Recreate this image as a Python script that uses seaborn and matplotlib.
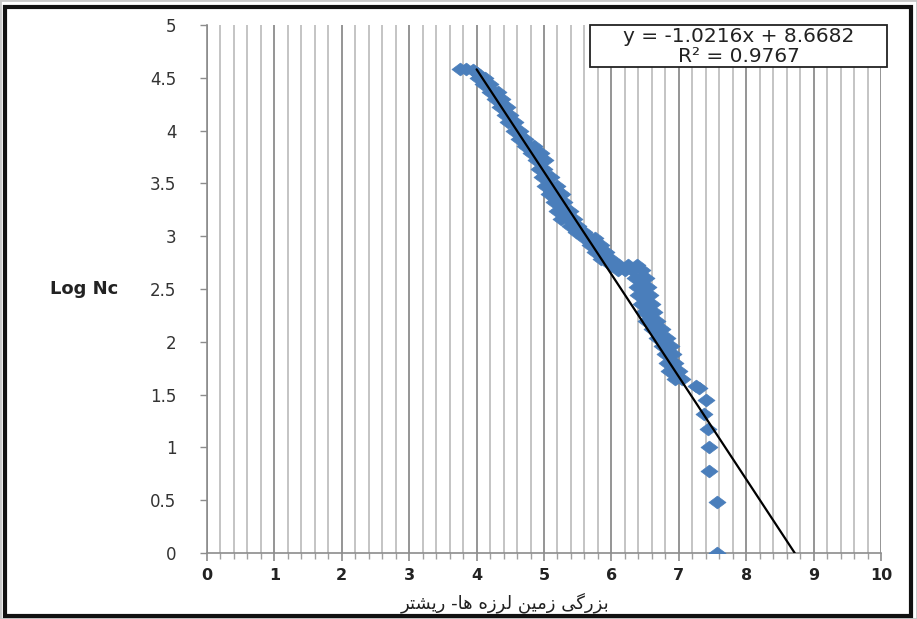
import matplotlib
matplotlib.use("Agg")
import matplotlib.pyplot as plt
import seaborn as sns
from matplotlib.markers import MarkerStyle
from matplotlib.path import Path
from matplotlib.patches import Rectangle
from matplotlib.ticker import MultipleLocator

# ---- data ----
magnitude = [3.75, 3.85, 3.95, 4.00,
             4.02, 4.07, 4.12, 4.10, 4.15, 4.20, 4.20, 4.26, 4.32,
             4.27, 4.33, 4.38, 4.35, 4.40, 4.45, 4.42, 4.46, 4.50,
             4.47, 4.52, 4.57, 4.55, 4.60, 4.65, 4.63, 4.68, 4.72,
             4.72, 4.78, 4.85, 4.80, 4.88, 4.95, 4.88, 4.95, 5.02,
             4.93, 5.00, 4.97, 5.04, 5.10, 5.02, 5.11, 5.20,
             5.08, 5.18, 5.27, 5.15, 5.22, 5.30, 5.20, 5.29, 5.38,
             5.25, 5.35, 5.45, 5.38, 5.44, 5.50, 5.47, 5.54, 5.60,
             5.60, 5.68, 5.75, 5.68, 5.77, 5.85, 5.75, 5.84, 5.92,
             5.85, 5.93, 6.00,
             6.00, 6.12, 6.25, 6.38, 6.10, 6.20, 6.30, 6.45, 6.35, 6.44, 6.52,
             6.38, 6.47, 6.55, 6.40, 6.49, 6.57, 6.44, 6.52, 6.60,
             6.48, 6.56, 6.63, 6.52, 6.60, 6.68, 6.60, 6.68, 6.75,
             6.68, 6.76, 6.83, 6.75, 6.82, 6.88, 6.80, 6.86, 6.92,
             6.82, 6.89, 6.95, 6.86, 6.93, 7.00, 6.95, 7.05,
             7.25, 7.30, 7.40, 7.38, 7.43, 7.45, 7.45, 7.56, 7.56]
log_nc = [4.58, 4.58, 4.57, 4.55,
          4.50, 4.50, 4.50, 4.44, 4.44, 4.44, 4.37, 4.37, 4.37,
          4.30, 4.30, 4.30, 4.22, 4.22, 4.22, 4.15, 4.15, 4.15,
          4.08, 4.08, 4.08, 4.00, 4.00, 4.00, 3.92, 3.92, 3.92,
          3.85, 3.85, 3.85, 3.79, 3.79, 3.79, 3.72, 3.72, 3.72,
          3.64, 3.64, 3.56, 3.56, 3.56, 3.48, 3.48, 3.48,
          3.40, 3.40, 3.40, 3.32, 3.32, 3.32, 3.24, 3.24, 3.24,
          3.16, 3.16, 3.16, 3.10, 3.10, 3.10, 3.04, 3.04, 3.04,
          2.98, 2.98, 2.98, 2.92, 2.92, 2.92, 2.85, 2.85, 2.85,
          2.78, 2.78, 2.78,
          2.73, 2.73, 2.73, 2.73, 2.68, 2.68, 2.68, 2.68, 2.60, 2.60, 2.60,
          2.52, 2.52, 2.52, 2.44, 2.44, 2.44, 2.36, 2.36, 2.36,
          2.28, 2.28, 2.28, 2.20, 2.20, 2.20, 2.12, 2.12, 2.12,
          2.04, 2.04, 2.04, 1.96, 1.96, 1.96, 1.88, 1.88, 1.88,
          1.80, 1.80, 1.80, 1.72, 1.72, 1.72, 1.65, 1.65,
          1.58, 1.56, 1.45, 1.32, 1.17, 1.00, 0.78, 0.48, 0.00]

trend_mag = [4.0, 8.72]
trend_log = [4.58, 0.0]

x_ticks = [0, 1, 2, 3, 4, 5, 6, 7, 8, 9, 10]
y_ticks = [0, 0.5, 1, 1.5, 2, 2.5, 3, 3.5, 4, 4.5, 5]
y_tick_labels = ["0", "0.5", "1", "1.5", "2", "2.5", "3", "3.5", "4", "4.5", "5"]

eq_line1 = "y = -1.0216x + 8.6682"
eq_line2 = "R\u00b2 = 0.9767"
y_label = "Log Nc"
# "بزرگی زمین لرزه ها- ریشتر" in shaped, visual (left-to-right) order
x_label = ("\uFEAE\uFE98\uFEB8\uFBFE\uFEAD -\uFE8E\uFEEB "
           "\uFEE9\uFEAF\uFEAE\uFEDF \uFEE6\uFBFF\uFEE3\uFEAF "
           "\uFBFD\uFB94\uFEAD\uFEB0\uFE91")

# ---- styling ----
sns.set_style("white")
plt.rcParams["font.family"] = ["DejaVu Sans"]

W, H = 917, 619
fig = plt.figure(figsize=(W / 100, H / 100), dpi=100)
fig.patch.set_facecolor("white")

left_px, right_px, top_px, bot_px = 207, 881, 25, 553
ax = fig.add_axes([left_px / W, 1 - bot_px / H,
                   (right_px - left_px) / W, (bot_px - top_px) / H])

ax.set_xlim(0, 10)
ax.set_ylim(0, 5)

# vertical grid lines
ax.xaxis.set_major_locator(MultipleLocator(1))
ax.xaxis.set_minor_locator(MultipleLocator(0.2))
ax.grid(False)
ax.grid(True, axis="x", which="minor", color="#b4b4b4", linewidth=1.1)
ax.grid(True, axis="x", which="major", color="#8c8c8c", linewidth=1.3)
ax.set_axisbelow(True)

diamond = MarkerStyle(Path([(-1, 0), (0, 0.75), (1, 0), (0, -0.75), (-1, 0)],
                           [Path.MOVETO, Path.LINETO, Path.LINETO,
                            Path.LINETO, Path.CLOSEPOLY]))
sns.scatterplot(x=magnitude, y=log_nc, marker=diamond, s=150,
                color="#4a7ebb", edgecolor="#4a7ebb", linewidth=0.5,
                ax=ax, zorder=3, legend=False)
sns.lineplot(x=trend_mag, y=trend_log, color="black", linewidth=1.6,
             ax=ax, zorder=4, legend=False)

ax.set_xticks(x_ticks)
ax.set_xticklabels([str(v) for v in x_ticks], fontsize=11.5,
                   fontweight="bold", color="#222222")
ax.set_yticks(y_ticks)
ax.set_yticklabels(y_tick_labels, fontsize=12, color="#333333")

for s in ["top", "right"]:
    ax.spines[s].set_visible(False)
for s in ["left", "bottom"]:
    ax.spines[s].set_color("#8c8c8c")
    ax.spines[s].set_linewidth(1.2)

ax.tick_params(axis="y", which="major", direction="out", length=5,
               color="#8c8c8c", width=1, pad=17, left=True)
ax.tick_params(axis="x", which="major", direction="out", length=6,
               color="#8c8c8c", width=1.2, pad=5, bottom=True)
ax.tick_params(axis="x", which="minor", direction="out", length=4,
               color="#a0a0a0", width=1, bottom=True)

ax.set_xlabel("")
ax.set_ylabel(y_label, rotation=0, fontsize=13, fontweight="bold",
              color="#222222", va="center", ha="center")
ax.yaxis.set_label_coords(-0.183, 0.5)

fig.text(505 / W, 1 - 603 / H, x_label, ha="center", va="center",
         fontsize=13, color="#222222", family=["DejaVu Sans"])

# equation box
bx0, bx1, by0, by1 = 590, 887, 25, 67
fig.add_artist(Rectangle((bx0 / W, 1 - by1 / H), (bx1 - bx0) / W,
                         (by1 - by0) / H, transform=fig.transFigure,
                         facecolor="white", edgecolor="#222222",
                         linewidth=1.3, zorder=10))
cx = (bx0 + bx1) / 2 / W
fig.text(cx, 1 - 36 / H, eq_line1, ha="center", va="center",
         fontsize=14.5, color="#222222", zorder=11)
fig.text(cx, 1 - 56 / H, eq_line2, ha="center", va="center",
         fontsize=14.5, color="#222222", zorder=11)

# outer screenshot frame
fig.add_artist(Rectangle((5 / W, 3 / H), 906 / W, 609 / H,
                         transform=fig.transFigure, facecolor="none",
                         edgecolor="#111111", linewidth=3, zorder=20))
fig.add_artist(Rectangle((0, 0), 1, 1, transform=fig.transFigure,
                         facecolor="none", edgecolor="#c8c8c8",
                         linewidth=2, zorder=19))

fig.savefig("out.png", dpi=100, facecolor="white")
